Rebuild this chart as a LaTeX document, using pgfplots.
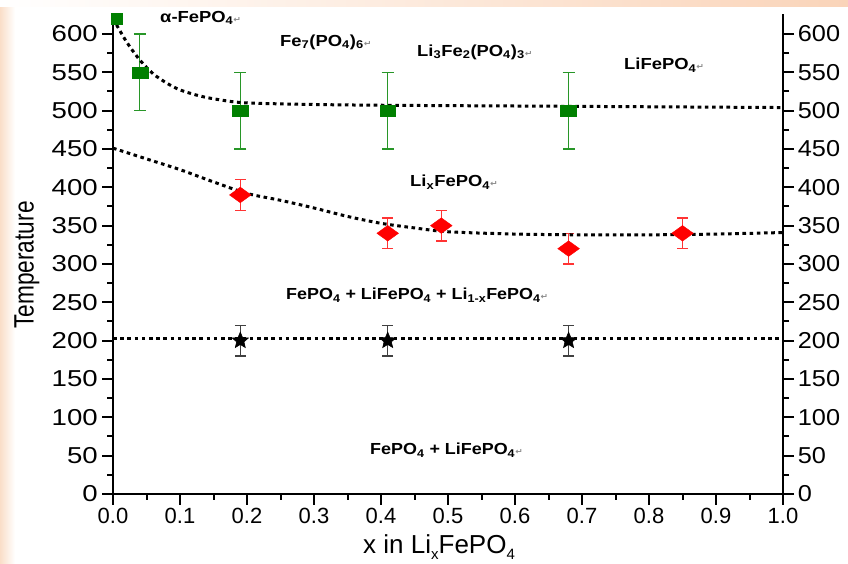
\documentclass[border=0pt]{standalone}
\usepackage{fontspec}
\setmainfont{Liberation Sans}
\newfontfamily\dejavu{DejaVu Sans}
\usepackage{graphicx}
\usepackage{pgfplots}
\pgfplotsset{compat=1.18}
\definecolor{mygreen}{RGB}{0,128,0}
\definecolor{errgreen}{RGB}{40,150,40}
\definecolor{peach}{RGB}{250,222,200}
\definecolor{peachtop}{RGB}{250,212,185}

\pgfdeclareplotmark{fstar}{%
  \pgfpathmoveto{\pgfqpointpolar{90}{\pgfplotmarksize}}%
  \pgfpathlineto{\pgfqpointpolar{126}{0.45\pgfplotmarksize}}%
  \pgfpathlineto{\pgfqpointpolar{162}{\pgfplotmarksize}}%
  \pgfpathlineto{\pgfqpointpolar{198}{0.45\pgfplotmarksize}}%
  \pgfpathlineto{\pgfqpointpolar{234}{\pgfplotmarksize}}%
  \pgfpathlineto{\pgfqpointpolar{270}{0.45\pgfplotmarksize}}%
  \pgfpathlineto{\pgfqpointpolar{306}{\pgfplotmarksize}}%
  \pgfpathlineto{\pgfqpointpolar{342}{0.45\pgfplotmarksize}}%
  \pgfpathlineto{\pgfqpointpolar{18}{\pgfplotmarksize}}%
  \pgfpathlineto{\pgfqpointpolar{54}{0.45\pgfplotmarksize}}%
  \pgfpathclose
  \pgfusepathqfillstroke}

\pgfplotstableread{
x y e
0.04 550 50
0.19 500 50
0.41 500 50
0.68 500 50
}\greendata
\pgfplotstableread{
x y e
0.19 390 20
0.41 340 20
0.49 350 20
0.68 320 20
0.85 340 20
}\reddata
\pgfplotstableread{
x y e
0.19 200 20
0.41 200 20
0.68 200 20
}\blackdata

\newcommand{\ret}{{\dejavu\fontsize{8}{8}\selectfont\color{black!45}↵}}
\newcommand{\ann}{\fontsize{16}{18}\selectfont\bfseries}
\newcommand{\sub}[1]{\textsubscript{#1}}

\begin{document}
\begin{tikzpicture}[x=1pt,y=1pt]
\useasboundingbox (0,0) rectangle (848,564);
\fill[white] (0,0) rectangle (848,564);
\shade[left color=peach, right color=white] (0,0) rectangle (15,557);
\shade[left color=white, right color=peachtop] (0,557) rectangle (848,564);

\begin{axis}[
  at={(113pt,70pt)}, anchor=south west,
  scale only axis, width=670pt, height=480pt,
  xmin=0, xmax=1, ymin=0, ymax=626,
  axis x line*=bottom, axis y line*=left,
  tick align=outside,
  xtick={0,0.1,...,1.01}, minor x tick num=1,
  ytick={0,50,...,600}, minor y tick num=1,
  major tick length=11pt, minor tick length=6pt,
  axis line style={line width=2.6pt},
  every tick/.style={line width=2pt, black},
  /pgf/number format/assume math mode=true,
  xticklabel style={font=\fontsize{22}{24}\selectfont, /pgf/number format/fixed, /pgf/number format/fixed zerofill, /pgf/number format/precision=1},
  yticklabel style={font=\fontsize{23}{24}\selectfont, xscale=1.2},
  clip=false,
]
% green squares
\addplot[only marks, mark=square*, color=mygreen, mark size=5.5pt, mark options={xscale=1.45},
  error bars/.cd, y dir=both, y explicit,
  error bar style={line width=1.3pt, errgreen},
  error mark options={rotate=90, mark size=6pt, line width=1.3pt, errgreen}]
  table[x=x, y=y, y error=e] {\greendata};
\addplot[only marks, mark=square*, color=mygreen, mark size=5.5pt]
  coordinates {(0.006,620)};
% red diamonds
\addplot[only marks, mark=diamond*, color=red, mark size=7.8pt, mark options={xscale=1.85},
  error bars/.cd, y dir=both, y explicit,
  error bar style={line width=1.3pt, red!80},
  error mark options={rotate=90, mark size=5.5pt, line width=1.3pt, red!80}]
  table[x=x, y=y, y error=e] {\reddata};
% black stars
\addplot[only marks, mark=fstar, color=black, mark size=8.5pt, mark options={fill=black, line width=0.6pt},
  error bars/.cd, y dir=both, y explicit,
  error bar style={line width=1.3pt, black!75},
  error mark options={rotate=90, mark size=5.5pt, line width=1.3pt, black!75}]
  table[x=x, y=y, y error=e] {\blackdata};
% dotted curves
\addplot[black, line width=3pt, dash pattern=on 3.6pt off 3.6pt, smooth] coordinates {
 (0,620) (0.02,590) (0.04,566) (0.06,548) (0.08,536) (0.1,527) (0.13,519) (0.16,514)
 (0.2,510) (0.3,508) (0.4,507) (0.6,506) (0.8,505) (1.0,504)};
\addplot[black, line width=3pt, dash pattern=on 3.6pt off 3.6pt, smooth] coordinates {
 (0,451) (0.05,437) (0.1,423) (0.15,407) (0.2,392) (0.25,383) (0.3,373) (0.35,362)
 (0.4,353) (0.45,347) (0.5,342) (0.6,339) (0.7,338) (0.8,338) (0.9,339) (1.0,341)};
\addplot[black, line width=3pt, dash pattern=on 3.6pt off 3.6pt] coordinates {
 (0,203) (1.0,203)};
\end{axis}

\begin{axis}[
  at={(113pt,70pt)}, anchor=south west,
  scale only axis, width=670pt, height=480pt,
  xmin=0, xmax=1, ymin=0, ymax=626,
  axis x line=none, axis y line*=right,
  tick align=outside,
  ytick={0,50,...,600}, minor y tick num=1,
  major tick length=11pt, minor tick length=6pt,
  axis line style={line width=2.6pt},
  every tick/.style={line width=2pt, black},
  /pgf/number format/assume math mode=true,
  yticklabel style={font=\fontsize{23}{24}\selectfont, xscale=1.1},
]
\end{axis}

% annotations
\node[anchor=west, inner sep=0, xscale=1.15] at (160,546) {\ann α-FePO\sub{4}\ret};
\node[anchor=west, inner sep=0, xscale=1.15] at (280,522) {\ann Fe\sub{7}(PO\sub{4})\sub{6}\ret};
\node[anchor=west, inner sep=0, xscale=1.15] at (417,512) {\ann Li\sub{3}Fe\sub{2}(PO\sub{4})\sub{3}\ret};
\node[anchor=west, inner sep=0, xscale=1.15] at (624,499) {\ann LiFePO\sub{4}\ret};
\node[anchor=west, inner sep=0, xscale=1.15] at (410,382) {\ann Li\sub{x}FePO\sub{4}\ret};
\node[anchor=west, inner sep=0, xscale=1.12] at (286,269) {\ann FePO\sub{4} + LiFePO\sub{4} + Li\sub{1-x}FePO\sub{4}\ret};
\node[anchor=west, inner sep=0, xscale=1.12] at (370,114) {\ann FePO\sub{4} + LiFePO\sub{4}\ret};

% axis titles
\node[rotate=90, inner sep=0] at (27,299) {\scalebox{0.81}[1]{\fontsize{28}{30}\selectfont Temperature}};
\node[anchor=base west, inner sep=0] at (363,10) {\fontsize{26}{28}\selectfont x in Li\raisebox{-5.5pt}{\fontsize{15}{15}\selectfont x}FePO\raisebox{-5.5pt}{\fontsize{15}{15}\selectfont 4}};
\end{tikzpicture}
\end{document}
